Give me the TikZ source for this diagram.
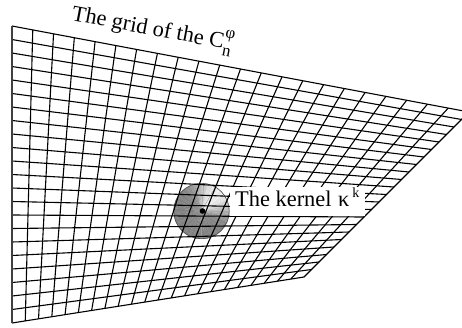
\documentclass[tikz,border=0pt]{standalone}
\usepackage{fontspec}
\usetikzlibrary{calc}
\setmainfont{Liberation Serif}
\tikzset{
  gridline/.style={line width=1.1pt,black},
  edgeline/.style={line width=1.4pt,black!75},
  labeltext/.style={inner sep=0pt,font=\fontsize{22.4}{24}\selectfont},
}
\begin{document}
\begin{tikzpicture}[x=1pt,y=-1pt]
\useasboundingbox (0,0) rectangle (462,327);
\clip (0,0) rectangle (462,327);
% corners
\coordinate (TL) at (12,26);
\coordinate (TR) at (469,112);
\coordinate (BR) at (304,277);
\coordinate (BL) at (12,323);
% kernel disc (drawn beneath the grid)
\coordinate (K) at (201.5,211);
\foreach \a in {0,6,...,354}{
  \pgfmathsetmacro{\c}{max(cos(\a-45),0)}
  \pgfmathsetmacro{\lev}{int(47-42*\c*\c+3*mod(\a/6,2))}
  \fill[black!\lev] (K) -- ++({28*cos(\a)},{-28*sin(\a)}) arc[start angle=-\a,end angle={-\a-6.5},radius=28] -- cycle;
}
\foreach \a in {-25,-50,-75,-100,-140,-170,150,60,85,110}{
  \draw[black!45,line width=0.3pt] (K) -- ++({27.5*cos(\a)},{-27.5*sin(\a)});
}
\draw[black!70,line width=0.6pt] (K) circle[radius=27.7];
% grid
\foreach \i in {0,...,22}{
  \pgfmathsetmacro{\t}{\i/22}
  \draw[gridline] ($(TL)!\t!(TR)$) -- ($(BL)!\t!(BR)$);
  \draw[gridline] ($(TL)!\t!(BL)$) -- ($(TR)!\t!(BR)$);
}
\draw[edgeline] (TL) -- (BL);
% kernel centre
\fill[black] (202.5,211) circle[radius=2.8];
% labels
\fill[white] (230,187) rectangle (365,216);
\node[labeltext,anchor=base west] (kernel) at (235,206) {The kernel\kern1pt{} κ\raisebox{0.8ex}{\kern3pt\fontsize{14}{15}\selectfont k}};
\node[labeltext,anchor=base west,rotate=-10.7] (gridlabel) at (71,20) {The grid of the C\rlap{\raisebox{1.1ex}{\fontsize{17}{17}\selectfont φ}}\raisebox{-0.7ex}{\fontsize{17}{17}\selectfont n}};
\end{tikzpicture}
\end{document}
